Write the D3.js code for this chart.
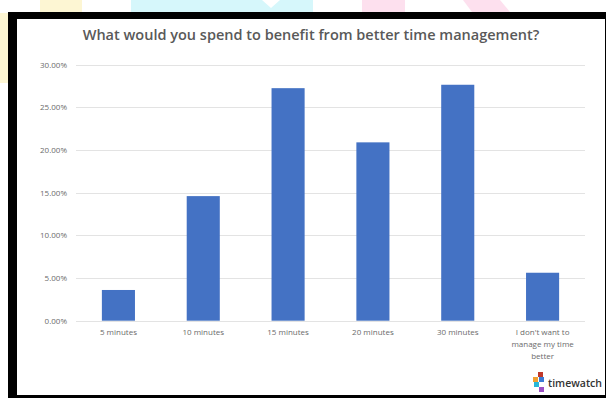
<!DOCTYPE html>
<html>
<head>
<meta charset="utf-8">
<script src="https://cdn.jsdelivr.net/npm/d3@7"></script>
<style>
  html, body { margin: 0; padding: 0; background: #ffffff; overflow: hidden; }
  svg { display: block; }
</style>
</head>
<body>
<svg id="chart" width="606" height="398"></svg>
<script>
const categories = ["5 minutes", "10 minutes", "15 minutes", "20 minutes", "30 minutes", "I don't want to|manage my time|better"];
const values = [0.036, 0.146, 0.2725, 0.209, 0.2765, 0.0562];
const yTicks = [0, 0.05, 0.10, 0.15, 0.20, 0.25, 0.30];
const title = "What would you spend to benefit from better time management?";

const svg = d3.select("#chart");
const W = 606, H = 398;

// pastel background decorations
const deco = svg.append("g");
deco.append("rect").attr("x", 40).attr("y", 0).attr("width", 42).attr("height", 12).attr("fill", "#fdf6d3");
deco.append("path").attr("d", "M131,0 L313,0 L313,12 L131,12 Z").attr("fill", "#d6f7fb");
deco.append("path").attr("d", "M262,0 L280,0 L271,8 Z").attr("fill", "#ffffff");
deco.append("rect").attr("x", 362).attr("y", 0).attr("width", 43).attr("height", 12).attr("fill", "#fde0ee");
deco.append("path").attr("d", "M463,0 L500,0 L510,12 L472,12 Z").attr("fill", "#fde0ee");
deco.append("rect").attr("x", 0).attr("y", 13).attr("width", 8).attr("height", 70).attr("fill", "#fdf6d3");

// black frame
svg.append("rect").attr("x", 8).attr("y", 12).attr("width", W - 8).attr("height", H - 12).attr("fill", "#000000");
svg.append("rect").attr("x", 17).attr("y", 19).attr("width", W - 18).attr("height", 376).attr("fill", "#ffffff");

const x = d3.scaleBand().domain(categories).range([76, 585]).paddingInner(0.61).paddingOuter(0.305);
const y = d3.scaleLinear().domain([0, 0.30]).range([320.7, 64.7]);

// title
svg.append("text").attr("x", 311).attr("y", 40).attr("text-anchor", "middle")
  .attr("font-family", "Open Sans, sans-serif").attr("font-weight", 600).attr("font-size", 14.5)
  .attr("fill", "#595959").text(title);

// gridlines
const grid = svg.append("g");
grid.selectAll("line").data(yTicks).join("line")
  .attr("x1", 76).attr("x2", 585)
  .attr("y1", d => Math.round(y(d)) + 0.5).attr("y2", d => Math.round(y(d)) + 0.5)
  .attr("stroke", "#e3e3e3").attr("stroke-width", 1);

// y axis labels
const yAxis = d3.axisLeft(y).tickValues(yTicks).tickSize(0).tickPadding(9)
  .tickFormat(d => (d * 100).toFixed(2) + "%");
const ya = svg.append("g").attr("transform", "translate(76,0)").call(yAxis);
ya.select(".domain").remove();
ya.selectAll("text").attr("font-family", "Open Sans, sans-serif").attr("font-size", 8).attr("fill", "#6b6b6b");

// bars
svg.append("g").selectAll("rect").data(values).join("rect")
  .attr("x", (d, i) => x(categories[i]))
  .attr("y", d => y(d))
  .attr("width", x.bandwidth())
  .attr("height", d => y(0) - y(d))
  .attr("fill", "#4472c4");

// x axis labels
const xAxis = d3.axisBottom(x).tickSize(0).tickPadding(0).tickFormat("");
const xa = svg.append("g").attr("transform", "translate(0,321)").call(xAxis);
xa.select(".domain").remove();
xa.selectAll(".tick").each(function(d) {
  const lines = d.split("|");
  const t = d3.select(this).append("text")
    .attr("text-anchor", "middle").attr("font-family", "Open Sans, sans-serif")
    .attr("font-size", 8).attr("fill", "#6b6b6b");
  lines.forEach((ln, k) => {
    t.append("tspan").attr("x", 0).attr("y", 14 + k * 12).text(ln);
  });
});

// logo
const logo = svg.append("g");
const sq = [
  [538, 372, "#c0392b"],
  [533, 377, "#f0a030"],
  [539, 377, "#3a7bd5"],
  [534, 382, "#29b6d6"],
  [539, 387, "#9b4fc4"]
];
logo.selectAll("rect").data(sq).join("rect")
  .attr("x", d => d[0]).attr("y", d => d[1]).attr("width", 5).attr("height", 5).attr("fill", d => d[2]);
logo.append("text").attr("x", 548).attr("y", 387)
  .attr("font-family", "Open Sans, sans-serif").attr("font-weight", 600).attr("font-size", 10)
  .attr("textLength", 54).attr("lengthAdjust", "spacingAndGlyphs")
  .attr("fill", "#333333").text("timewatch");
</script>
</body>
</html>
